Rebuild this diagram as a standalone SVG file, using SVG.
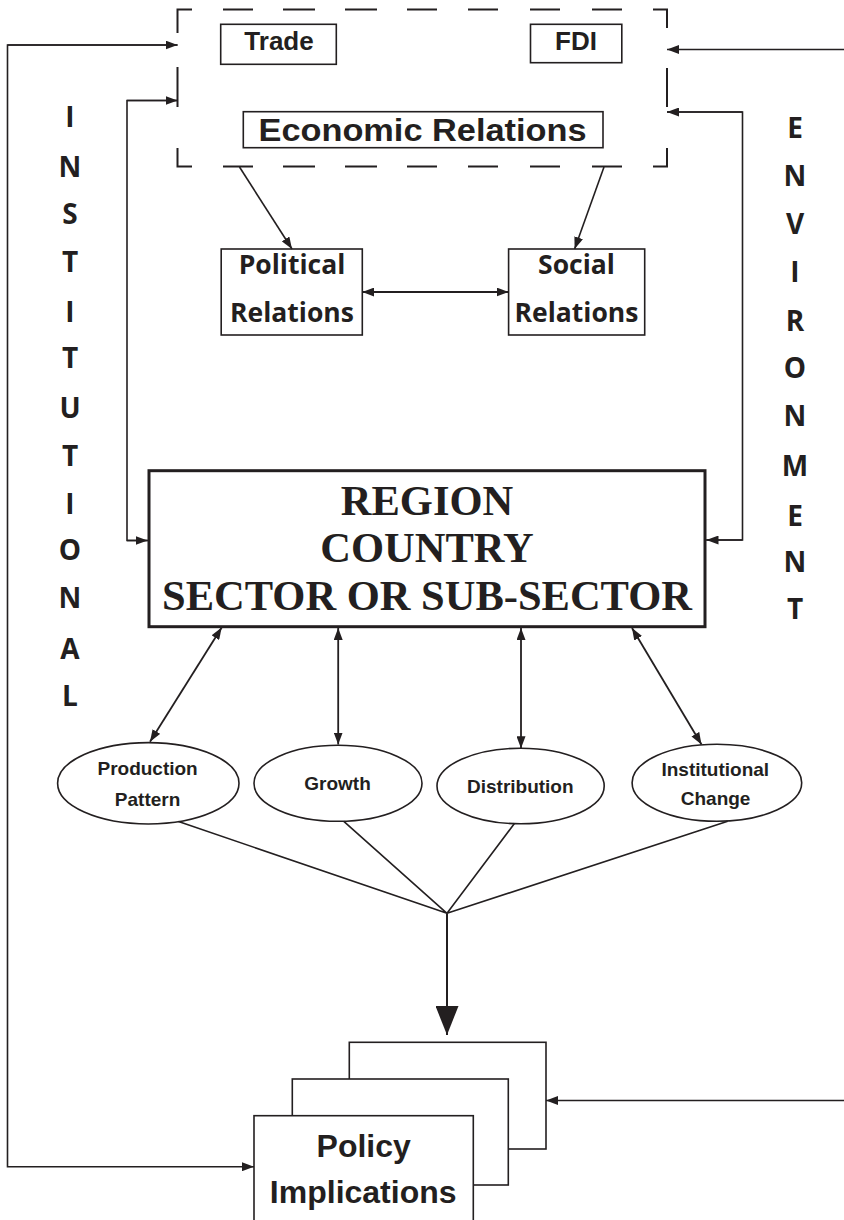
<svg xmlns="http://www.w3.org/2000/svg" width="844" height="1220" viewBox="0 0 844 1220">
<style>
.bx{fill:#fff;stroke:#231f20;stroke-width:1.6}
.ln{fill:none;stroke:#231f20;stroke-width:1.6}
.ar{fill:none;stroke:#231f20;stroke-width:1.6;marker-end:url(#ah)}
.dar{fill:none;stroke:#231f20;stroke-width:1.8;marker-start:url(#ah);marker-end:url(#ah)}
.dash{fill:none;stroke:#231f20;stroke-width:2}
.sans{font-family:"Liberation Sans",Arial,sans-serif;font-weight:bold;fill:#231f20;text-anchor:middle}
.cal{font-family:"Open Sans","Noto Sans",sans-serif;font-weight:bold;fill:#231f20;text-anchor:middle}
.ser{font-family:"Liberation Serif","Times New Roman",serif;font-weight:bold;fill:#231f20;text-anchor:middle;font-size:42.5px}
.vl{font-family:"Open Sans","Noto Sans",sans-serif;font-weight:bold;fill:#231f20;text-anchor:middle;font-size:28px}
</style>
<defs>
<marker id="ah" viewBox="0 0 12 9" refX="12" refY="4.5" markerWidth="12" markerHeight="9" markerUnits="userSpaceOnUse" orient="auto-start-reverse">
<path d="M0,0 L12,4.5 L0,9 z" fill="#231f20"/>
</marker>
<marker id="big" viewBox="0 0 29 23" refX="29" refY="11.5" markerWidth="29" markerHeight="23" markerUnits="userSpaceOnUse" orient="auto">
<path d="M0,0 L29,11.5 L0,23 z" fill="#231f20"/>
</marker>
</defs>

<g id="economic-frame">
<path class="dash" d="M177.5,33 V9.5 H192 M223,9.5 H253 M283,9.5 H315 M345,9.5 H377 M407,9.5 H437 M468,9.5 H498 M530,9.5 H560 M592,9.5 H622 M653,9.5 H667 V28 M667,68 V107 M667,148 V166.5 H653 M622,166.5 H592 M560,166.5 H530 M498,166.5 H468 M437,166.5 H407 M377,166.5 H345 M315,166.5 H283 M253,166.5 H223 M192,166.5 H177.5 V148 M177.5,107 V67"/>
</g>
<g id="trade">
<rect class="bx" x="220.7" y="24.3" width="115.6" height="40"/>
<text class="sans" x="279" y="50" font-size="26">Trade</text>
</g>
<g id="fdi">
<rect class="bx" x="530.5" y="24.3" width="91.3" height="38.4"/>
<text class="sans" x="576" y="50" font-size="26">FDI</text>
</g>
<g id="economic-relations">
<rect class="bx" x="243.3" y="111.7" width="359.7" height="36"/>
<text class="sans" x="422.5" y="140.5" font-size="31" textLength="328" lengthAdjust="spacingAndGlyphs">Economic Relations</text>
</g>
<g id="political-relations">
<rect class="bx" x="221.2" y="249" width="141.1" height="86"/>
<text class="cal" x="292" y="274" font-size="26.5">Political</text>
<text class="cal" x="292" y="321.5" font-size="26.5">Relations</text>
</g>
<g id="social-relations">
<rect class="bx" x="508.6" y="249" width="136.1" height="86"/>
<text class="cal" x="576.5" y="274" font-size="26.5">Social</text>
<text class="cal" x="576.5" y="321.5" font-size="26.5">Relations</text>
</g>
<g id="region">
<rect x="149" y="470.7" width="556" height="156" fill="#fff" stroke="#231f20" stroke-width="3"/>
<text class="ser" x="427" y="515">REGION</text>
<text class="ser" x="427" y="561.5">COUNTRY</text>
<text class="ser" x="427" y="610">SECTOR OR SUB-SECTOR</text>
</g>
<g id="production-pattern">
<ellipse class="bx" cx="148.3" cy="783.3" rx="90.7" ry="40.7"/>
<text class="sans" x="147.6" y="775" font-size="19">Production</text>
<text class="sans" x="147.6" y="806" font-size="19">Pattern</text>
</g>
<g id="growth">
<ellipse class="bx" cx="338" cy="783.3" rx="84" ry="38"/>
<text class="sans" x="337.5" y="790" font-size="19">Growth</text>
</g>
<g id="distribution">
<ellipse class="bx" cx="520.6" cy="786" rx="83.6" ry="37.8"/>
<text class="sans" x="520.3" y="792.7" font-size="19">Distribution</text>
</g>
<g id="institutional-change">
<ellipse class="bx" cx="716.9" cy="782.8" rx="84.8" ry="38.5"/>
<text class="sans" x="715.3" y="776" font-size="19">Institutional</text>
<text class="sans" x="715.6" y="805" font-size="19">Change</text>
</g>
<g id="policy-implications">
<rect class="bx" x="349.3" y="1042.3" width="196.7" height="106.7"/>
<rect class="bx" x="292.3" y="1079" width="216" height="106"/>
<rect class="bx" x="254" y="1115.7" width="219.3" height="130"/>
<text class="sans" x="363.7" y="1156.7" font-size="32">Policy</text>
<text class="sans" x="363.2" y="1203.3" font-size="32">Implications</text>
</g>
<g id="labels">
<text class="vl" x="70" y="127">I</text>
<text class="vl" x="70" y="177">N</text>
<text class="vl" x="70" y="224">S</text>
<text class="vl" x="70" y="271.5">T</text>
<text class="vl" x="70" y="321.5">I</text>
<text class="vl" x="70" y="368">T</text>
<text class="vl" x="70" y="418">U</text>
<text class="vl" x="70" y="466">T</text>
<text class="vl" x="70" y="513.5">I</text>
<text class="vl" x="70" y="559.5">O</text>
<text class="vl" x="70" y="607.5">N</text>
<text class="vl" x="70" y="659">A</text>
<text class="vl" x="70" y="706">L</text>
<text class="vl" x="795" y="137.5">E</text>
<text class="vl" x="795" y="185.5">N</text>
<text class="vl" x="795" y="233.5">V</text>
<text class="vl" x="795" y="282">I</text>
<text class="vl" x="795" y="331">R</text>
<text class="vl" x="795" y="378">O</text>
<text class="vl" x="795" y="425.5">N</text>
<text class="vl" x="795" y="475.5">M</text>
<text class="vl" x="795" y="525.5">E</text>
<text class="vl" x="795" y="572">N</text>
<text class="vl" x="795" y="619">T</text>
</g>
<g id="connectors">
<polyline class="ar" points="177.5,45 7.5,45 7.5,1166.7 254,1166.7" style="marker-start:none"/>
<path class="ar" d="M7.5,45 H177.5"/>
<path class="ar" d="M844,49.5 H667"/>
<path class="ar" d="M844,1100.5 H546"/>
<polyline class="ln" points="177.5,100.5 127,100.5 127,540.5 149,540.5"/>
<path class="ar" d="M127,100.5 H177.5"/>
<path class="ar" d="M127,540.5 H147.5"/>
<polyline class="ln" points="667,112 742.5,112 742.5,540 705,540"/>
<path class="ar" d="M742.5,112 H667"/>
<path class="ar" d="M742.5,540 H706.5"/>
<path class="ar" d="M239.5,167 L292,249"/>
<path class="ar" d="M604,167 L574.6,249"/>
<path class="dar" d="M362.3,292 H508.6"/>
<path class="dar" d="M221.7,627.5 L150,741.7"/>
<path class="dar" d="M338.2,628 V744.5"/>
<path class="dar" d="M521,628 V748.3"/>
<path class="dar" d="M632,628 L701.5,744.5"/>
<path class="ln" d="M178.5,821.5 L447,913.3 L343.8,821.3 M447,913.3 L514.6,823.3 M447,913.3 L727.7,821.3"/>
<path d="M447,913.3 V1035" fill="none" stroke="#231f20" stroke-width="2" marker-end="url(#big)"/>
</g>
</svg>
